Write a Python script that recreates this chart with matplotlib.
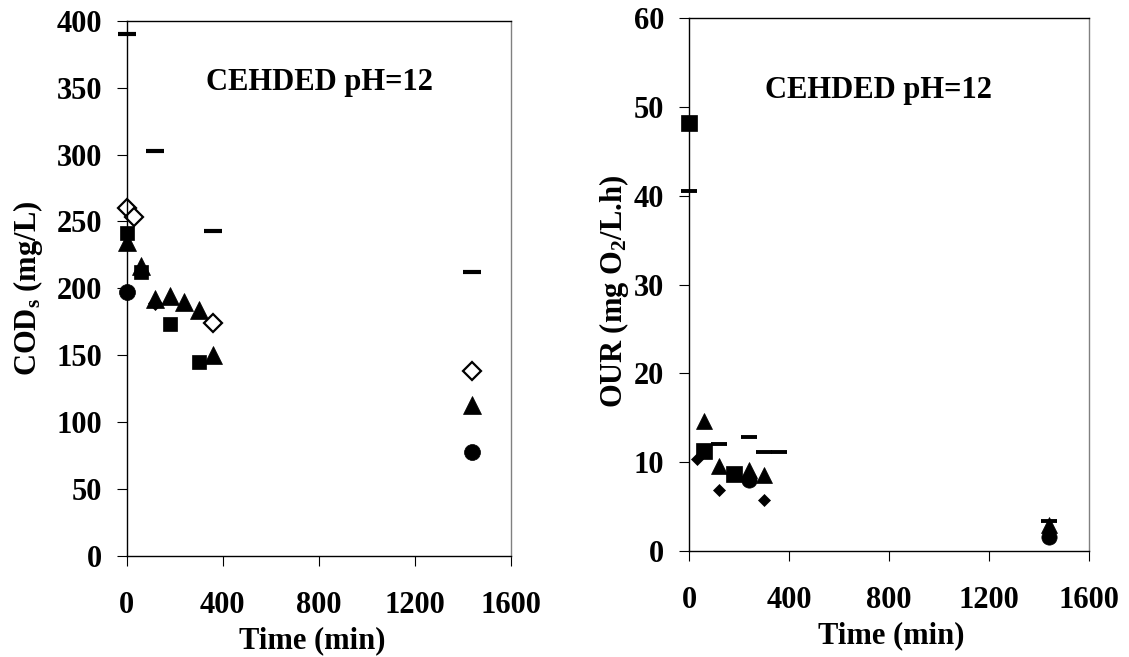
import matplotlib
matplotlib.use("Agg")
import matplotlib.pyplot as plt

# ---- data: soluble COD (mg/L) versus time (min) ----
cod_dash_t = [0, 120, 360, 1440]
cod_dash = [390, 303, 243, 212]
cod_open_t = [0, 30, 360, 1440]
cod_open = [260, 253, 174, 138]
cod_sq_t = [0, 60, 180, 300]
cod_sq = [241, 212, 173, 145]
cod_tri_t = [0, 60, 120, 180, 240, 300, 360, 1440]
cod_tri = [235, 217, 192, 194, 190, 184, 150, 113]
cod_dia_t = [120]
cod_dia = [189]
cod_circ_t = [0, 1440]
cod_circ = [197, 78]

# ---- data: oxygen uptake rate (mg O2/L.h) versus time (min) ----
our_sq_t = [0, 60, 180]
our_sq = [48.2, 11.3, 8.7]
our_dash_t = [0, 120, 240, 300, 360, 1440]
our_dash = [40.5, 12.0, 12.8, 11.1, 11.1, 3.4]
our_tri_t = [60, 120, 240, 300, 1440]
our_tri = [14.6, 9.6, 9.1, 8.6, 2.9]
our_dia_t = [30, 120, 300]
our_dia = [10.3, 6.8, 5.7]
our_circ_t = [240, 1440]
our_circ = [8.0, 1.6]

x_ticks = [0, 400, 800, 1200, 1600]
cod_ticks = [0, 50, 100, 150, 200, 250, 300, 350, 400]
our_ticks = [0, 10, 20, 30, 40, 50, 60]
panel_title = "CEHDED pH=12"

FS = 22
plt.rcParams["font.family"] = ["Liberation Serif", "DejaVu Serif"]
plt.rcParams["font.weight"] = "bold"
plt.rcParams["mathtext.fontset"] = "custom"
plt.rcParams["mathtext.rm"] = "Liberation Serif:bold"
plt.rcParams["mathtext.it"] = "Liberation Serif:bold"
plt.rcParams["mathtext.bf"] = "Liberation Serif:bold"

fig = plt.figure(figsize=(11.29, 6.57), dpi=100)
ax1 = fig.add_axes([0.1122, 0.1537, 0.3401, 0.8148])
ax2 = fig.add_axes([0.6103, 0.1616, 0.3540, 0.8105])


def style_axes(ax, yticks, ylim):
    ax.set_xlim(0, 1600)
    ax.set_ylim(*ylim)
    ax.set_xticks(x_ticks)
    ax.set_yticks(yticks)
    ax.tick_params(axis="both", direction="out", length=7.2, width=0.8,
                   labelsize=FS, color="black")
    ax.tick_params(axis="x", pad=18)
    ax.tick_params(axis="y", pad=10.5)
    for lab in ax.get_xticklabels() + ax.get_yticklabels():
        lab.set_fontweight("bold")
    for side in ("left", "bottom", "top"):
        ax.spines[side].set_linewidth(1.0)
        ax.spines[side].set_color("black")
    ax.spines["right"].set_linewidth(1.0)
    ax.spines["right"].set_color("#808080")


def scatter(ax, t, v, marker, size, filled=True, mew=1.5):
    ax.plot(t, v, linestyle="none", marker=marker, markersize=size,
            markerfacecolor="black" if filled else "white",
            markeredgecolor="black", markeredgewidth=mew, clip_on=False)


# left panel: COD
scatter(ax1, cod_dash_t, cod_dash, "_", 13, mew=3)
scatter(ax1, cod_sq_t, cod_sq, "s", 10.5, mew=0.5)
scatter(ax1, cod_tri_t, cod_tri, "^", 12.5, mew=0.5)
scatter(ax1, cod_dia_t, cod_dia, "D", 7, mew=0.5)
scatter(ax1, cod_circ_t, cod_circ, "o", 11.5, mew=0.5)
scatter(ax1, cod_open_t, cod_open, "D", 8.7, filled=False, mew=1.6)
style_axes(ax1, cod_ticks, (0, 400))
ax1.text(0.503, 0.87, panel_title, transform=ax1.transAxes, ha="center",
         va="baseline", fontsize=FS, fontweight="bold")
ax1.set_xlabel("Time (min)", fontsize=FS, fontweight="bold")
ax1.xaxis.set_label_coords(0.483, -0.132)
fig.text(0.0248, 0.561, r"COD$_\mathrm{s}$ (mg/L)", rotation=90,
         ha="center", va="center", fontsize=FS, fontweight="bold")

# right panel: OUR
scatter(ax2, our_dash_t, our_dash, "_", 12, mew=2.8)
scatter(ax2, our_sq_t, our_sq, "s", 11, mew=0.5)
scatter(ax2, our_tri_t, our_tri, "^", 12, mew=0.5)
scatter(ax2, our_circ_t, our_circ, "o", 11, mew=0.5)
scatter(ax2, our_dia_t, our_dia, "D", 6, mew=0.5)
style_axes(ax2, our_ticks, (0, 60))
ax2.text(0.474, 0.85, panel_title, transform=ax2.transAxes, ha="center",
         va="baseline", fontsize=FS, fontweight="bold")
ax2.set_xlabel("Time (min)", fontsize=FS, fontweight="bold")
ax2.xaxis.set_label_coords(0.505, -0.132)
fig.text(0.5439, 0.5556, r"OUR (mg O$_\mathrm{2}$/L.h)", rotation=90,
         ha="center", va="center", fontsize=FS, fontweight="bold")

fig.savefig("out.png", dpi=100)
